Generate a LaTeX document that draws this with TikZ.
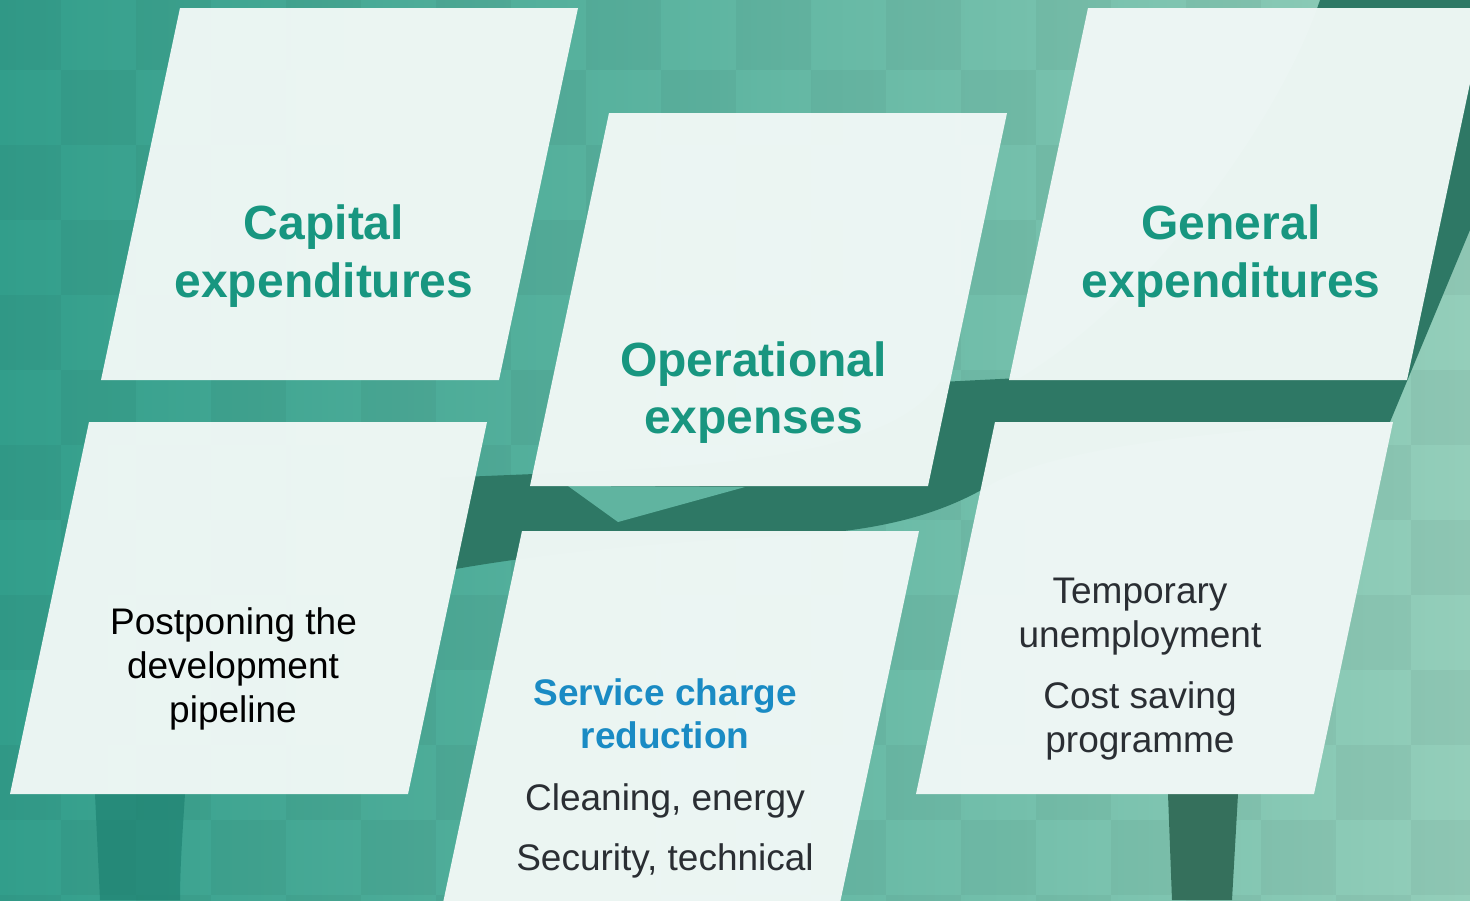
\documentclass[tikz,border=0pt]{standalone}
\usepackage{fontspec}
\setmainfont{Liberation Sans}
\definecolor{bgL}{RGB}{50,158,139}
\definecolor{bgM}{RGB}{96,182,162}
\definecolor{bgR}{RGB}{148,206,186}
\definecolor{bandcol}{RGB}{46,120,101}
\definecolor{bandtwo}{RGB}{53,112,92}
\definecolor{notchcol}{RGB}{96,180,160}
\definecolor{deepteal}{RGB}{31,130,114}
\definecolor{panelcol}{RGB}{239,247,245}
\definecolor{titlecol}{RGB}{24,150,128}
\definecolor{bluecol}{RGB}{26,139,196}
\definecolor{bodycol}{RGB}{42,46,51}
\tikzset{
  panelbox/.style={fill=panelcol, fill opacity=0.975},
  titletext/.style={font=\bfseries\fontsize{48}{57.6}\selectfont, text=titlecol, anchor=base, inner sep=0pt},
  subtext/.style={font=\bfseries\fontsize{37}{44}\selectfont, text=bluecol, anchor=base, inner sep=0pt},
  bodytext/.style={font=\fontsize{37}{44.4}\selectfont, text=bodycol, anchor=base, inner sep=0pt},
  blacktext/.style={bodytext, text=black}
}
\begin{document}
\begin{tikzpicture}[x=1pt,y=-1pt]
\useasboundingbox (0,0) rectangle (1470,900);
\clip (0,0) rectangle (1470,900);
% background
\fill[left color=bgL, right color=bgR, middle color=bgM] (0,0) rectangle (1470,900);
\foreach \i in {0,...,20}{
  \foreach \j in {0,...,12}{
    \pgfmathtruncatemacro\chk{mod(\i+\j,2)}
    \ifnum\chk=0
      \fill[black, opacity=0.035] (\i*75-14,\j*75-5) rectangle ++(75,75);
    \fi
  }
}
% dark sweeping band
\fill[bandcol] (440,478) .. controls (650,468) and (880,470) .. (940,382)
  -- (1020,378) .. controls (1150,300) and (1280,120) .. (1320,0)
  -- (1470,0) -- (1470,230) -- (1390,422)
  .. controls (1200,430) and (1050,450) .. (990,485)
  .. controls (940,515) and (880,530) .. (800,535)
  .. controls (700,540) and (560,550) .. (450,570) -- (440,570) -- cycle;
\fill[notchcol] (568,486) -- (618,522) -- (745,487) -- cycle;
\fill[bandtwo] (1168,794) -- (1238,794) -- (1232,900) -- (1172,900) -- cycle;
\fill[deepteal, opacity=0.7] (95,794) -- (185,794) .. controls (182,840) and (180,870) .. (180,900) -- (100,900) -- cycle;
% panels
\fill[panelbox] (180,8) -- (578,8) -- (499,380) -- (101,380) -- cycle;
\fill[panelbox] (609,113) -- (1007,113) -- (928,486) -- (530,486) -- cycle;
\fill[panelbox] (1088,8) -- (1486,8) -- (1407,380) -- (1009,380) -- cycle;
\fill[panelbox] (89,422) -- (487,422) -- (408,794) -- (10,794) -- cycle;
\fill[panelbox] (522,531) -- (919,531) -- (838.5,910) -- (441.5,910) -- cycle;
\fill[panelbox] (995,422) -- (1393,422) -- (1314,794) -- (916,794) -- cycle;
% texts
\node[titletext] (cap1) at (324,239) {Capital};
\node[titletext] (cap2) at (324,297) {expenditures};
\node[titletext] (gen1) at (1231,239) {General};
\node[titletext] (gen2) at (1231,297) {expenditures};
\node[titletext] (op1) at (753.5,376) {Operational};
\node[titletext] (op2) at (753.5,433) {expenses};
\node[blacktext] (pp1) at (233.5,634) {Postponing the};
\node[blacktext] (pp2) at (233,678) {development};
\node[blacktext] (pp3) at (233,722) {pipeline};
\node[subtext] (sc1) at (665,705) {Service charge};
\node[subtext] (sc2) at (665,748) {reduction};
\node[bodytext] (sc3) at (665,810) {Cleaning, energy};
\node[bodytext] (sc4) at (665,870) {Security, technical};
\node[bodytext] (tu1) at (1140,603) {Temporary};
\node[bodytext] (tu2) at (1140,647.5) {unemployment};
\node[bodytext] (cs1) at (1140,708) {Cost saving};
\node[bodytext] (cs2) at (1140,752.5) {programme};
\end{tikzpicture}
\end{document}
